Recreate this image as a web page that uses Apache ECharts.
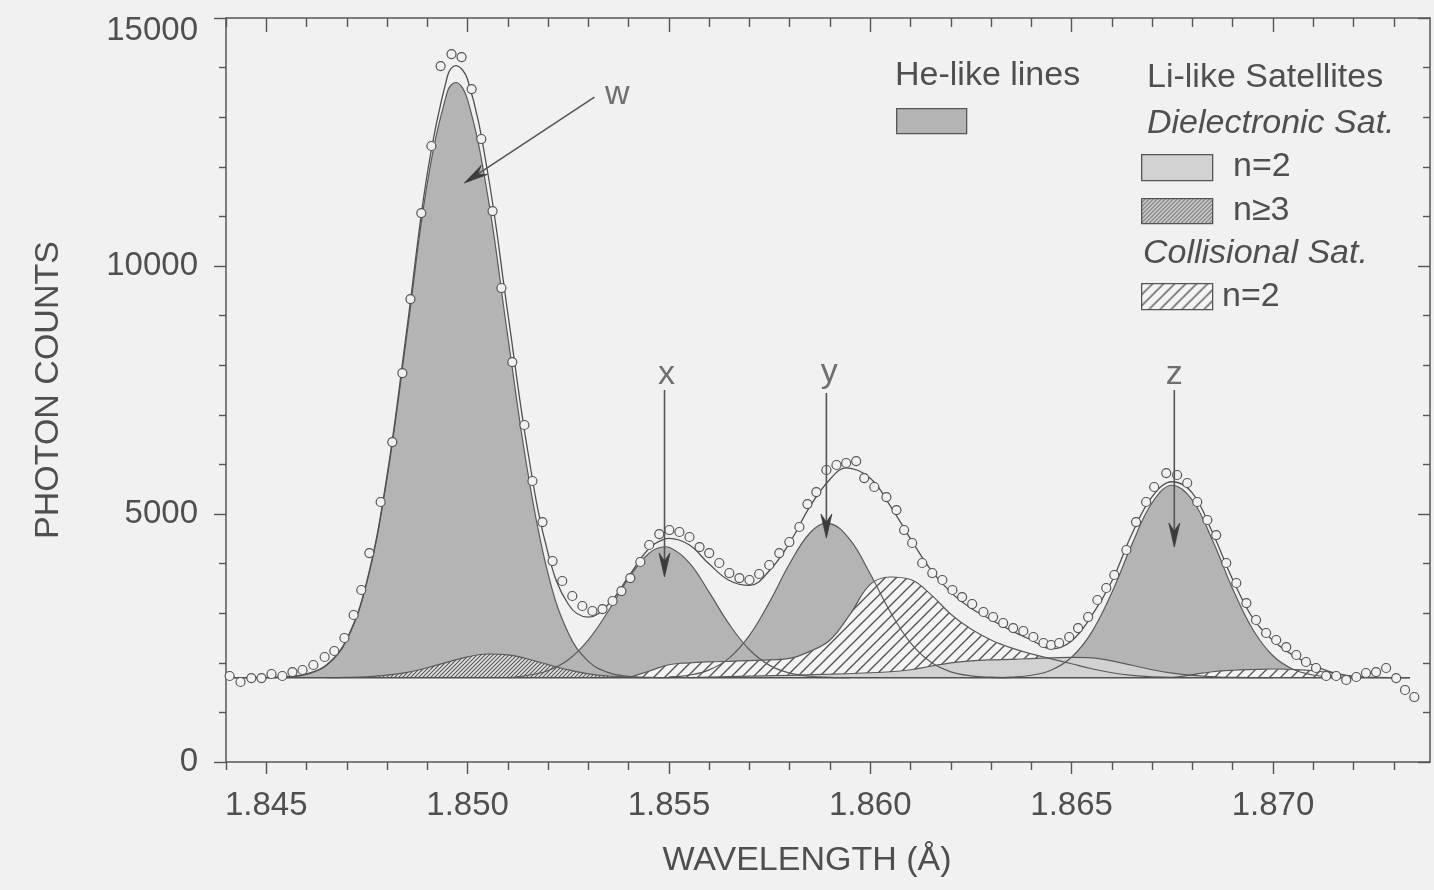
<!DOCTYPE html>
<html><head><meta charset="utf-8">
<script src="https://cdn.jsdelivr.net/npm/echarts@6/dist/echarts.min.js"></script>
<style>html,body{margin:0;padding:0;background:#f1f1f1}#c{width:1434px;height:890px}</style>
</head><body><div id="c"></div>
<script>
// ---------- data ----------
const xMajorTicks = [1.845, 1.850, 1.855, 1.860, 1.865, 1.870];
const xMinorTicks = [1.844, 1.846, 1.847, 1.848, 1.849, 1.851, 1.852, 1.853, 1.854, 1.856, 1.857, 1.858, 1.859,
  1.861, 1.862, 1.863, 1.864, 1.866, 1.867, 1.868, 1.869, 1.871, 1.872, 1.873];
const yTickLabels = [0, 5000, 10000, 15000];
const baseLevel = 1700;
const baseline = [[1.8442, 1700], [1.8734, 1700]];

const observed = [[1.84409,1734],[1.84436,1613],[1.84463,1693],[1.84488,1693],[1.84513,1774],[1.84540,1734],[1.84565,1814],[1.84590,1855],[1.84617,1956],[1.84645,2117],[1.84669,2238],[1.84694,2500],[1.84717,2964],[1.84736,3468],[1.84756,4213],[1.84784,5242],[1.84813,6451],[1.84838,7842],[1.84858,9334],[1.84885,11068],[1.84910,12419],[1.84933,14031],[1.84960,14273],[1.84985,14213],[1.85010,13568],[1.85034,12560],[1.85062,11108],[1.85084,9556],[1.85111,8064],[1.85141,6794],[1.85161,5665],[1.85186,4838],[1.85211,4052],[1.85235,3649],[1.85260,3347],[1.85285,3145],[1.85310,3044],[1.85335,3084],[1.85360,3246],[1.85382,3447],[1.85404,3709],[1.85429,4032],[1.85451,4375],[1.85476,4596],[1.85501,4677],[1.85526,4637],[1.85551,4536],[1.85576,4334],[1.85600,4213],[1.85625,4012],[1.85650,3810],[1.85675,3709],[1.85700,3669],[1.85724,3790],[1.85749,3972],[1.85774,4213],[1.85799,4435],[1.85824,4738],[1.85844,5201],[1.85866,5443],[1.85891,5887],[1.85916,5988],[1.85940,6028],[1.85965,6068],[1.85985,5725],[1.86010,5544],[1.86040,5342],[1.86065,5080],[1.86084,4677],[1.86104,4415],[1.86129,4012],[1.86154,3810],[1.86179,3669],[1.86204,3468],[1.86228,3326],[1.86253,3185],[1.86281,3024],[1.86305,2923],[1.86330,2802],[1.86355,2701],[1.86380,2641],[1.86405,2520],[1.86430,2399],[1.86449,2359],[1.86469,2399],[1.86494,2520],[1.86516,2701],[1.86541,2923],[1.86564,3266],[1.86586,3508],[1.86606,3770],[1.86636,4274],[1.86660,4838],[1.86685,5242],[1.86705,5544],[1.86735,5826],[1.86762,5786],[1.86787,5625],[1.86812,5242],[1.86837,4879],[1.86859,4576],[1.86884,4012],[1.86909,3609],[1.86934,3205],[1.86958,2863],[1.86983,2601],[1.87008,2460],[1.87033,2318],[1.87058,2157],[1.87082,2016],[1.87107,1895],[1.87132,1734],[1.87157,1734],[1.87182,1653],[1.87207,1714],[1.87231,1794],[1.87256,1814],[1.87281,1895],[1.87306,1693],[1.87328,1452],[1.87351,1310]];

const fitTotal = [[1.8442,1700],[1.8450,1705],[1.8455,1720],[1.8460,1775],[1.8465,1960],[1.8470,2480],[1.8475,3650],[1.8480,5780],[1.8485,8780],[1.8490,11870],[1.8495,13830],[1.8497,14040],[1.8500,13760],[1.8505,11880],[1.8510,9040],[1.8515,6240],[1.8520,4200],[1.8525,3180],[1.8530,2920],[1.8535,3180],[1.8540,3740],[1.8545,4300],[1.8549,4500],[1.8550,4510],[1.8555,4380],[1.8560,3990],[1.8565,3660],[1.8570,3560],[1.8575,3860],[1.8580,4420],[1.8585,5150],[1.8590,5700],[1.8594,5930],[1.8600,5720],[1.8605,5160],[1.8610,4500],[1.8615,3880],[1.8620,3420],[1.8625,3100],[1.8630,2870],[1.8635,2650],[1.8640,2460],[1.8645,2280],[1.8650,2440],[1.8655,2950],[1.8660,3650],[1.8665,4600],[1.8670,5350],[1.8675,5650],[1.8680,5420],[1.8685,4620],[1.8690,3680],[1.8695,2900],[1.8700,2450],[1.8705,2150],[1.8710,1950],[1.8715,1800],[1.8720,1720],[1.8725,1705],[1.8734,1700]];

const heW = [[1.8450,1700],[1.8455,1715],[1.8460,1768],[1.8465,1950],[1.8470,2462],[1.8475,3625],[1.8480,5725],[1.8485,8665],[1.8490,11670],[1.8495,13520],[1.8497,13700],[1.8500,13350],[1.8505,11413],[1.8510,8565],[1.8515,5812],[1.8520,3788],[1.8525,2600],[1.8530,2028],[1.8535,1801],[1.8540,1727],[1.8545,1706],[1.8550,1700]];
const heX = [[1.8510,1700],[1.8515,1749],[1.8520,1845],[1.8525,2063],[1.8530,2464],[1.8535,3050],[1.8540,3705],[1.8545,4204],[1.8549,4340],[1.8550,4329],[1.8555,4020],[1.8560,3421],[1.8565,2773],[1.8570,2263],[1.8575,1948],[1.8580,1792],[1.8585,1729],[1.8590,1708],[1.8595,1700]];
const heY = [[1.8550,1715],[1.8555,1752],[1.8560,1858],[1.8565,2100],[1.8570,2554],[1.8575,3229],[1.8580,4003],[1.8585,4617],[1.8589,4810],[1.8590,4805],[1.8595,4478],[1.8600,3789],[1.8605,3021],[1.8610,2402],[1.8615,2014],[1.8620,1818],[1.8625,1737],[1.8630,1710],[1.8635,1700]];
const heZ = [[1.8630,1700],[1.8635,1713],[1.8640,1749],[1.8645,1855],[1.8650,2112],[1.8655,2619],[1.8660,3416],[1.8665,4388],[1.8670,5227],[1.8675,5580],[1.8680,5277],[1.8685,4464],[1.8690,3490],[1.8695,2672],[1.8700,2142],[1.8705,1869],[1.8710,1754],[1.8715,1715],[1.8720,1700]];
const dielN3 = [[1.8465,1700],[1.8470,1706],[1.8475,1719],[1.8480,1750],[1.8485,1808],[1.8490,1900],[1.8495,2015],[1.8500,2120],[1.8505,2177],[1.8510,2160],[1.8515,2077],[1.8520,1963],[1.8525,1856],[1.8530,1778],[1.8535,1734],[1.8540,1712],[1.8545,1700]];
const collN2 = [[1.8540,1700],[1.8545,1830],[1.8550,1960],[1.8555,2000],[1.8560,2020],[1.8565,2030],[1.8570,2045],[1.8575,2060],[1.8580,2090],[1.8585,2230],[1.8590,2460],[1.8595,2980],[1.8600,3580],[1.8605,3730],[1.8610,3680],[1.8615,3380],[1.8620,2980],[1.8625,2680],[1.8630,2460],[1.8635,2300],[1.8640,2180],[1.8645,2080],[1.8650,1980],[1.8655,1880],[1.8660,1800],[1.8665,1745],[1.8670,1715],[1.8675,1705],[1.8680,1760],[1.8685,1820],[1.8690,1850],[1.8695,1865],[1.8700,1875],[1.8705,1865],[1.8710,1840],[1.8715,1790],[1.8720,1730],[1.8725,1700]];
const dielN2 = [[1.8555,1700],[1.8570,1730],[1.8590,1770],[1.8605,1820],[1.8610,1860],[1.8615,1930],[1.8620,2000],[1.8625,2040],[1.8630,2060],[1.8635,2070],[1.8640,2085],[1.8645,2100],[1.8650,2110],[1.8655,2100],[1.8660,2040],[1.8665,1950],[1.8670,1860],[1.8675,1790],[1.8680,1745],[1.8685,1720],[1.8690,1705],[1.8700,1700]];

const arrowLabels = ['w', 'x', 'y', 'z'];
const arrowFrom = [[1.85315, 13406], [1.85489, 7500], [1.85891, 7439], [1.86755, 7500]];
const arrowTo = [[1.84992, 11673], [1.85489, 3730], [1.85891, 4516], [1.86755, 4334]];
const labelAt = [[1.85372, 13447], [1.85494, 7802], [1.85898, 7842], [1.86755, 7802]];

// ---------- styles ----------
const INK = '#4f4f4f', LINE = '#555';
const FONT = '"Liberation Sans", Arial, Helvetica, sans-serif';
function makeHatch(step, lw, fg, bg) {
  const c = document.createElement('canvas');
  c.width = step; c.height = step;
  const g = c.getContext('2d');
  g.fillStyle = bg; g.fillRect(0, 0, step, step);
  g.strokeStyle = fg; g.lineWidth = lw;
  g.beginPath();
  g.moveTo(0, step); g.lineTo(step, 0);
  g.moveTo(-step / 2, step / 2); g.lineTo(step / 2, -step / 2);
  g.moveTo(step / 2, step * 1.5); g.lineTo(step * 1.5, step / 2);
  g.stroke();
  return c;
}
const wideHatch = { image: makeHatch(11, 1.4, '#555', '#f4f4f4'), repeat: 'repeat' };
const fineHatch = { image: makeHatch(4, 1.1, '#555', '#e2e2e2'), repeat: 'repeat' };
const HE_GREY = '#b4b4b4', D2_GREY = '#d2d2d2';

function area(name, data, fill) {
  return {
    name, type: 'line', data, smooth: 0.4, showSymbol: false, silent: true,
    lineStyle: { color: '#5a5a5a', width: 1.2 },
    areaStyle: { color: fill, opacity: 1, origin: baseLevel },
    z: 2
  };
}

const arrowData = arrowFrom.map((f, i) => [f[0], f[1], arrowTo[i][0], arrowTo[i][1]]);

function renderArrow(params, api) {
  const p1 = api.coord([api.value(0), api.value(1)]);
  const p2 = api.coord([api.value(2), api.value(3)]);
  const dx = p2[0] - p1[0], dy = p2[1] - p1[1];
  const len = Math.sqrt(dx * dx + dy * dy) || 1;
  const ux = dx / len, uy = dy / len, nx = -uy, ny = ux;
  const L = 24, W = 5.5, N = 16;
  const bx = p2[0] - ux * L, by = p2[1] - uy * L;
  const notch = [p2[0] - ux * N, p2[1] - uy * N];
  return {
    type: 'group',
    children: [
      { type: 'line', shape: { x1: p1[0], y1: p1[1], x2: notch[0], y2: notch[1] }, style: { stroke: '#555', lineWidth: 1.6 } },
      { type: 'polygon', shape: { points: [[p2[0], p2[1]], [bx + nx * W, by + ny * W], notch, [bx - nx * W, by - ny * W]] },
        style: { fill: '#3c3c3c', stroke: '#3c3c3c', lineWidth: 0.8 } }
    ]
  };
}

const chart = echarts.init(document.getElementById('c'), null, { renderer: 'canvas' });
const xBase = { type: 'value', min: 1.844, max: 1.8739, gridIndex: 0, splitLine: { show: false } };
const tickStyle = { color: LINE, width: 1.4 };

chart.setOption({
  animation: false,
  backgroundColor: '#f1f1f1',
  textStyle: { fontFamily: FONT },
  grid: { left: 226, top: 18, width: 1204, height: 744, containLabel: false, outerBoundsMode: 'none' },
  xAxis: [
    Object.assign({}, xBase, {
      position: 'bottom',
      name: 'WAVELENGTH (Å)', nameLocation: 'middle', nameGap: 82,
      nameTextStyle: { fontSize: 34, color: INK, fontFamily: FONT, padding: [0, 42, 0, 0] },
      axisLine: { show: true, onZero: false, lineStyle: { color: LINE, width: 1.5 } },
      axisTick: { show: true, customValues: xMajorTicks, length: 12, lineStyle: tickStyle },
      axisLabel: { show: true, customValues: xMajorTicks, formatter: v => v.toFixed(3), fontSize: 33, color: INK, margin: 27, fontFamily: FONT }
    }),
    Object.assign({}, xBase, {
      position: 'bottom',
      axisLine: { show: false, onZero: false },
      axisTick: { show: true, customValues: xMinorTicks, length: 8, lineStyle: tickStyle },
      axisLabel: { show: false }
    }),
    Object.assign({}, xBase, {
      position: 'top',
      axisLine: { show: true, onZero: false, lineStyle: { color: LINE, width: 1.5 } },
      axisTick: { show: true, inside: true, customValues: xMajorTicks, length: 14, lineStyle: tickStyle },
      axisLabel: { show: false }
    }),
    Object.assign({}, xBase, {
      position: 'top',
      axisLine: { show: false, onZero: false },
      axisTick: { show: true, inside: true, customValues: xMinorTicks, length: 9, lineStyle: tickStyle },
      axisLabel: { show: false }
    })
  ],
  yAxis: [
    {
      type: 'value', min: 0, max: 15000, interval: 5000, position: 'left',
      name: 'PHOTON COUNTS', nameLocation: 'middle', nameGap: 160,
      nameTextStyle: { fontSize: 34, color: INK, fontFamily: FONT },
      axisLine: { show: true, onZero: false, lineStyle: { color: LINE, width: 1.5 } },
      axisTick: { show: true, length: 12, lineStyle: tickStyle },
      minorTick: { show: true, splitNumber: 5, length: 7, lineStyle: tickStyle },
      axisLabel: {
        show: true, fontSize: 33, color: INK, margin: 28, fontFamily: FONT,
        customValues: yTickLabels,
        formatter: v => (v === 15000 ? '{top|15000}' : String(v)),
        rich: { top: { fontSize: 33, color: INK, fontFamily: FONT, padding: [26, 0, 0, 0] } }
      },
      splitLine: { show: false }
    },
    {
      type: 'value', min: 0, max: 15000, interval: 5000, position: 'right',
      axisLine: { show: true, onZero: false, lineStyle: { color: LINE, width: 1.5 } },
      axisTick: { show: true, inside: true, length: 12, lineStyle: tickStyle },
      minorTick: { show: true, splitNumber: 5, length: 7, lineStyle: tickStyle },
      axisLabel: { show: false },
      splitLine: { show: false }
    }
  ],
  series: [
    area('He-like w', heW, HE_GREY),
    area('He-like x', heX, HE_GREY),
    area('He-like y', heY, HE_GREY),
    area('He-like z', heZ, HE_GREY),
    area('Collisional n=2', collN2, wideHatch),
    area('Dielectronic n>=3', dielN3, fineHatch),
    area('Dielectronic n=2', dielN2, D2_GREY),
    {
      name: 'baseline', type: 'line', data: baseline, showSymbol: false, silent: true,
      lineStyle: { color: '#505050', width: 1.6 }, z: 3
    },
    {
      name: 'fit', type: 'line', data: fitTotal, smooth: 0.4, showSymbol: false, silent: true,
      lineStyle: { color: '#505050', width: 1.3 }, z: 3
    },
    {
      name: 'observed', type: 'scatter', data: observed, symbol: 'circle', symbolSize: 9, silent: true,
      itemStyle: { color: '#f1f1f1', borderColor: '#555', borderWidth: 1.2, opacity: 1 }, z: 4
    },
    {
      name: 'arrows', type: 'custom', data: arrowData, renderItem: renderArrow, silent: true, z: 5,
      encode: { x: [0, 2], y: [1, 3] }, clip: false
    },
    {
      name: 'labels', type: 'scatter', silent: true, z: 5, symbolSize: 1,
      itemStyle: { color: 'rgba(0,0,0,0)' },
      data: labelAt.map((c, i) => ({ name: arrowLabels[i], value: c })),
      label: { show: true, position: 'inside', fontSize: 34, color: INK, fontFamily: FONT, formatter: p => p.name }
    }
  ],
  graphic: [
    { type: 'text', left: 895, top: 59, style: { text: 'He-like lines', font: '34px ' + FONT, fill: INK } },
    { type: 'rect', left: 896, top: 108, shape: { width: 70, height: 25 }, style: { fill: HE_GREY, stroke: '#555', lineWidth: 1.3 } },
    { type: 'text', left: 1147, top: 61, style: { text: 'Li-like Satellites', font: '34px ' + FONT, fill: INK } },
    { type: 'text', left: 1147, top: 107, style: { text: 'Dielectronic Sat.', font: 'italic 34px ' + FONT, fill: INK } },
    { type: 'rect', left: 1141, top: 154, shape: { width: 71, height: 26 }, style: { fill: D2_GREY, stroke: '#555', lineWidth: 1.3 } },
    { type: 'text', left: 1233, top: 150, style: { text: 'n=2', font: '34px ' + FONT, fill: INK } },
    { type: 'rect', left: 1141, top: 198, shape: { width: 71, height: 25 }, style: { fill: fineHatch, stroke: '#555', lineWidth: 1.3 } },
    { type: 'text', left: 1233, top: 194, style: { text: 'n≥3', font: '34px ' + FONT, fill: INK } },
    { type: 'text', left: 1143, top: 237, style: { text: 'Collisional Sat.', font: 'italic 34px ' + FONT, fill: INK } },
    { type: 'rect', left: 1141, top: 283, shape: { width: 71, height: 26 }, style: { fill: wideHatch, stroke: '#555', lineWidth: 1.3 } },
    { type: 'text', left: 1222, top: 280, style: { text: 'n=2', font: '34px ' + FONT, fill: INK } }
  ]
});
</script>
</body></html>
